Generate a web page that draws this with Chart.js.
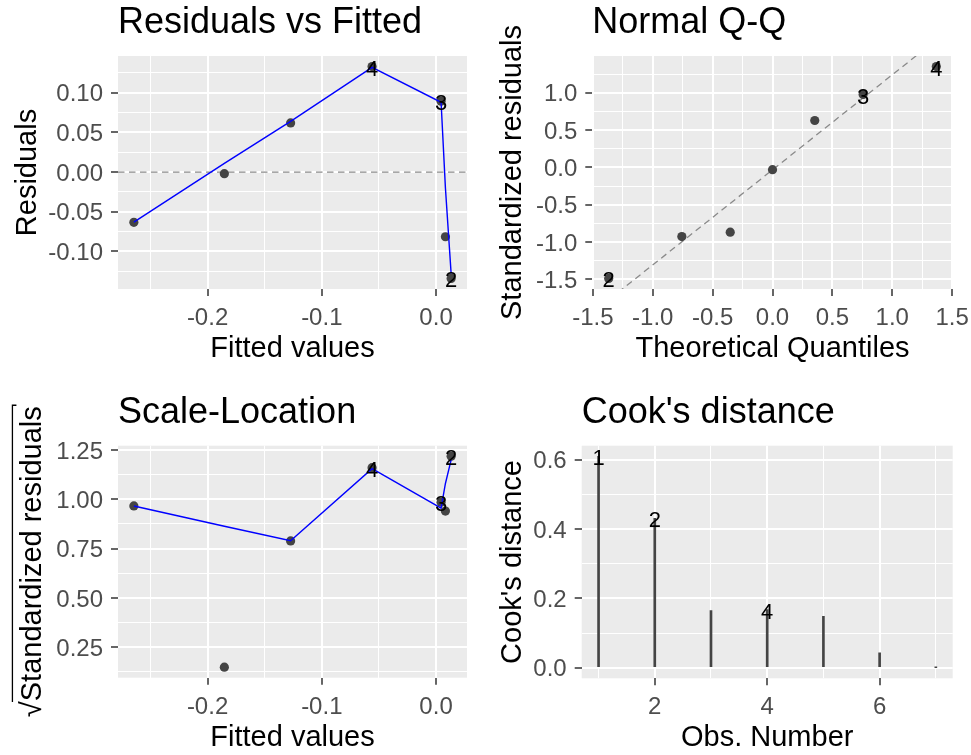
<!DOCTYPE html>
<html><head><meta charset="utf-8">
<script src="https://cdn.jsdelivr.net/npm/chart.js@4.4.1/dist/chart.umd.min.js"></script>
<style>
html,body{margin:0;padding:0;background:#ffffff;}
#wrap{position:relative;width:971px;height:755px;overflow:hidden;background:#fff;}
.cell{position:absolute;}
canvas{display:block;}
</style></head><body>
<div id="wrap">
<div class="cell" style="left:0;top:0;width:485px;height:377px"><canvas id="c1" width="485" height="377"></canvas></div>
<div class="cell" style="left:485px;top:0;width:486px;height:377px"><canvas id="c2" width="486" height="377"></canvas></div>
<div class="cell" style="left:0;top:377px;width:485px;height:378px"><canvas id="c3" width="485" height="378"></canvas></div>
<div class="cell" style="left:485px;top:377px;width:486px;height:378px"><canvas id="c4" width="486" height="378"></canvas></div>
</div>
<script>
// ---------------- data (one entry per observation 1..7) ----------------
const obsNumbers = [1, 2, 3, 4, 5, 6, 7];
const fittedValues = [-0.2645, 0.0132, 0.0044, -0.0560, -0.1273, 0.0082, -0.1853];
const residuals = [-0.0633, -0.1340, 0.0894, 0.1330, 0.0620, -0.0815, -0.0020];
const residSmooth = [-0.063, -0.128, 0.088, 0.132, 0.064, -0.020, 0.011];
const theoreticalQuantiles = [-0.757, -1.368, 0.757, 1.368, 0.353, -0.353, 0.000];
const standardizedResiduals = [-0.927, -1.487, 0.977, 1.350, 0.628, -0.868, -0.031];
const qqLineIntercept = -0.033;
const qqLineSlope = 1.273;
const sqrtStdResiduals = [0.966, 1.218, 0.985, 1.160, 0.789, 0.940, 0.149];
const scaleSmooth = [0.966, 1.200, 0.955, 1.155, 0.790, 1.080, 0.863];
const cooksDistance = [0.610, 0.431, 0.165, 0.168, 0.148, 0.043, 0.0002];
const residLabelled = [2, 3, 4];
const cooksLabelled = [1, 2, 4];
const residRefLine = 0;

// ---------------- tick labels ----------------
const fittedMajor = [-0.2, -0.1, 0.0];
const fittedMinor = [-0.25, -0.15, -0.05];
const residMajor = [-0.10, -0.05, 0.00, 0.05, 0.10];
const residMinor = [-0.125, -0.075, -0.025, 0.025, 0.075, 0.125];
const qqXMajor = [-1.5, -1.0, -0.5, 0.0, 0.5, 1.0, 1.5];
const qqXMinor = [-1.25, -0.75, -0.25, 0.25, 0.75, 1.25];
const qqYMajor = [-1.5, -1.0, -0.5, 0.0, 0.5, 1.0];
const qqYMinor = [-1.25, -0.75, -0.25, 0.25, 0.75, 1.25];
const slYMajor = [0.25, 0.50, 0.75, 1.00, 1.25];
const slYMinor = [0.125, 0.375, 0.625, 0.875, 1.125];
const cookXMajor = [2, 4, 6];
const cookXMinor = [1, 3, 5, 7];
const cookYMajor = [0.0, 0.2, 0.4, 0.6];
const cookYMinor = [0.1, 0.3, 0.5];

// ---------------- styling ----------------
const FAMILY = "'Liberation Sans', Arial, sans-serif";
Chart.defaults.font.family = FAMILY;
const PANEL_BG = '#EBEBEB';
const POINT_COL = '#444444';
const TICK_COL = '#4D4D4D';

function expand(arr) {
  const lo = Math.min(...arr), hi = Math.max(...arr), d = (hi - lo) * 0.05;
  return [lo - d, hi + d];
}
const fittedLim = expand(fittedValues);
const residLim = expand(residuals);
const qqXLim = expand(theoreticalQuantiles);
const qqYLim = expand(standardizedResiduals);
const slYLim = expand(sqrtStdResiduals);
const cookXLim = expand(obsNumbers);
const cookYLim = expand(cooksDistance.concat([0]));

const bgPlugin = {
  id: 'ggBg',
  beforeDraw(chart) {
    const a = chart.chartArea, ctx = chart.ctx;
    ctx.save(); ctx.fillStyle = PANEL_BG;
    ctx.fillRect(a.left, a.top, a.right - a.left, a.bottom - a.top);
    ctx.restore();
  }
};
const labelPlugin = {
  id: 'ggLabels',
  afterDatasetsDraw(chart, args, opts) {
    if (!opts || !opts.obs) return;
    const ctx = chart.ctx, xs = chart.scales.x, ys = chart.scales.y;
    ctx.save();
    ctx.font = '22px ' + FAMILY;
    ctx.fillStyle = '#000000';
    ctx.textAlign = 'center'; ctx.textBaseline = 'middle';
    opts.obs.forEach(o => {
      const px = xs.getPixelForValue(opts.xv[o - 1]);
      const py = ys.getPixelForValue(opts.yv[o - 1]);
      ctx.fillText(String(o), px, py + 3);
    });
    ctx.restore();
  }
};

function axis(o) {
  return {
    type: 'linear', min: o.lim[0], max: o.lim[1], offset: false,
    afterBuildTicks: s => {
      s.ticks = o.major.map(v => ({value: v, gg: 1}))
        .concat(o.minor.map(v => ({value: v, gg: 0})))
        .sort((a, b) => a.value - b.value);
    },
    afterFit: s => {
      if (o.horizontal) { s.height = o.size; s.paddingLeft = 0; s.paddingRight = 0; }
      else { s.width = o.size; s.paddingTop = 0; s.paddingBottom = 0; }
    },
    ticks: {
      autoSkip: false, maxRotation: 0, minRotation: 0, color: TICK_COL,
      font: {size: 24}, padding: 8, labelOffset: o.horizontal ? 0 : 2,
      callback: (v, i, t) => t[i] && t[i].gg ? o.fmt(v) : ''
    },
    grid: {
      offset: false, color: '#FFFFFF', drawTicks: true, tickLength: 7,
      lineWidth: c => (c.tick && c.tick.gg) ? 2 : 1,
      tickWidth: 1.5,
      tickColor: c => (c.tick && c.tick.gg) ? '#333333' : 'rgba(0,0,0,0)'
    },
    border: {display: false},
    title: {
      display: true, text: o.title, color: '#000000',
      font: {size: 29, lineHeight: 1, weight: 'normal'},
      padding: o.horizontal ? {top: 0, bottom: o.titlePad} : {top: o.titlePad, bottom: 0}
    }
  };
}
const f2 = v => v.toFixed(2), f1 = v => v.toFixed(1), f0 = v => v.toFixed(0);

function baseOptions(o) {
  return {
    responsive: false, animation: false, events: [],
    layout: {padding: {left: 0, top: 0, right: o.padRight, bottom: 0}},
    plugins: {
      legend: {display: false}, tooltip: {enabled: false},
      title: {
        display: true, text: o.title, align: 'start', fullSize: false, color: '#000000',
        font: {size: 36, weight: 'normal', lineHeight: 1.2},
        padding: o.titlePadding
      },
      ggLabels: o.labels
    },
    scales: {x: o.x, y: o.y}
  };
}
const TOP_TITLE_PAD = {top: 1.9, bottom: 10.9};
const BOTTOM_TITLE_PAD = {top: 14.4, bottom: 11.1};

function pts(xs, ys) { return xs.map((x, i) => ({x: x, y: ys[i]})); }
function sortedPts(xs, ys) { return pts(xs, ys).sort((a, b) => a.x - b.x); }

// -------- Panel 1: Residuals vs Fitted --------
new Chart(document.getElementById('c1'), {
  type: 'scatter',
  data: {datasets: [
    {type: 'line', data: sortedPts(fittedValues, residSmooth), borderColor: '#0000FF', borderWidth: 1.4, pointRadius: 0, fill: false, tension: 0},
    {data: pts(fittedValues, residuals), backgroundColor: POINT_COL, borderWidth: 0, pointRadius: 4.6},
    {type: 'line', data: [{x: fittedLim[0], y: residRefLine}, {x: fittedLim[1], y: residRefLine}], borderColor: '#8A8A8A', borderWidth: 1.4, borderDash: [6.5, 4.5], pointRadius: 0, fill: false}
  ]},
  options: baseOptions({
    padRight: 18, title: 'Residuals vs Fitted', titlePadding: TOP_TITLE_PAD,
    labels: {obs: residLabelled, xv: fittedValues, yv: residuals},
    x: axis({lim: fittedLim, major: fittedMajor, minor: fittedMinor, fmt: f1, horizontal: true, size: 88, title: 'Fitted values', titlePad: 13.5}),
    y: axis({lim: residLim, major: residMajor, minor: residMinor, fmt: f2, horizontal: false, size: 118, title: 'Residuals', titlePad: 13.8})
  }),
  plugins: [bgPlugin, labelPlugin]
});

// -------- Panel 2: Normal Q-Q --------
new Chart(document.getElementById('c2'), {
  type: 'scatter',
  data: {datasets: [
    {data: pts(theoreticalQuantiles, standardizedResiduals), backgroundColor: POINT_COL, borderWidth: 0, pointRadius: 4.6},
    {type: 'line', data: [
        {x: qqXLim[0], y: qqLineIntercept + qqLineSlope * qqXLim[0]},
        {x: qqXLim[1], y: qqLineIntercept + qqLineSlope * qqXLim[1]}],
     borderColor: '#8A8A8A', borderWidth: 1.3, borderDash: [6.5, 4.5], pointRadius: 0, fill: false, clip: 0}
  ]},
  options: baseOptions({
    padRight: 18.3, title: 'Normal Q-Q', titlePadding: TOP_TITLE_PAD,
    labels: {obs: residLabelled, xv: theoreticalQuantiles, yv: standardizedResiduals},
    x: axis({lim: qqXLim, major: qqXMajor, minor: qqXMinor, fmt: f1, horizontal: true, size: 88, title: 'Theoretical Quantiles', titlePad: 13.5}),
    y: axis({lim: qqYLim, major: qqYMajor, minor: qqYMinor, fmt: f1, horizontal: false, size: 107.3, title: 'Standardized residuals', titlePad: 13.8})
  }),
  plugins: [bgPlugin, labelPlugin]
});

// -------- Panel 3: Scale-Location --------
const SL_TITLE_PAD = 18.8;
const sqrtBarPlugin = {
  id: 'sqrtBar',
  afterDraw(chart) {
    const s = chart.scales.y, a = chart.chartArea, ctx = chart.ctx;
    const text = s.options.title.text;
    ctx.save();
    ctx.font = '29px ' + FAMILY;
    const full = ctx.measureText(text).width;
    const rad = ctx.measureText('\u221A').width;
    const cx = s.left + SL_TITLE_PAD + 29 / 2;
    const cy = (a.top + a.bottom) / 2;
    const x = cx - 29 * 0.72;
    const y0 = cy + full / 2 - rad * 0.95;
    const y1 = cy - full / 2 - 1;
    ctx.strokeStyle = '#000000'; ctx.lineWidth = 1.3;
    ctx.beginPath(); ctx.moveTo(x, y0); ctx.lineTo(x, y1); ctx.lineTo(x + 4, y1); ctx.stroke();
    ctx.restore();
  }
};
new Chart(document.getElementById('c3'), {
  type: 'scatter',
  data: {datasets: [
    {type: 'line', data: sortedPts(fittedValues, scaleSmooth), borderColor: '#0000FF', borderWidth: 1.4, pointRadius: 0, fill: false, tension: 0},
    {data: pts(fittedValues, sqrtStdResiduals), backgroundColor: POINT_COL, borderWidth: 0, pointRadius: 4.6}
  ]},
  options: baseOptions({
    padRight: 18, title: 'Scale-Location', titlePadding: BOTTOM_TITLE_PAD,
    labels: {obs: residLabelled, xv: fittedValues, yv: sqrtStdResiduals},
    x: axis({lim: fittedLim, major: fittedMajor, minor: fittedMinor, fmt: f1, horizontal: true, size: 77.3, title: 'Fitted values', titlePad: 2.2}),
    y: axis({lim: slYLim, major: slYMajor, minor: slYMinor, fmt: f2, horizontal: false, size: 118, title: '\u221AStandardized residuals', titlePad: SL_TITLE_PAD})
  }),
  plugins: [bgPlugin, labelPlugin, sqrtBarPlugin]
});

// -------- Panel 4: Cook's distance --------
new Chart(document.getElementById('c4'), {
  type: 'bar',
  data: {datasets: [
    {data: pts(obsNumbers, cooksDistance), backgroundColor: POINT_COL, borderWidth: 0, barThickness: 2, grouped: false}
  ]},
  options: baseOptions({
    padRight: 18.3, title: "Cook's distance", titlePadding: BOTTOM_TITLE_PAD,
    labels: {obs: cooksLabelled, xv: obsNumbers, yv: cooksDistance},
    x: axis({lim: cookXLim, major: cookXMajor, minor: cookXMinor, fmt: f0, horizontal: true, size: 76.7, title: 'Obs. Number', titlePad: 2.2}),
    y: axis({lim: cookYLim, major: cookYMajor, minor: cookYMinor, fmt: f1, horizontal: false, size: 96.7, title: "Cook's distance", titlePad: 13.8})
  }),
  plugins: [bgPlugin, labelPlugin]
});
</script>
</body></html>
